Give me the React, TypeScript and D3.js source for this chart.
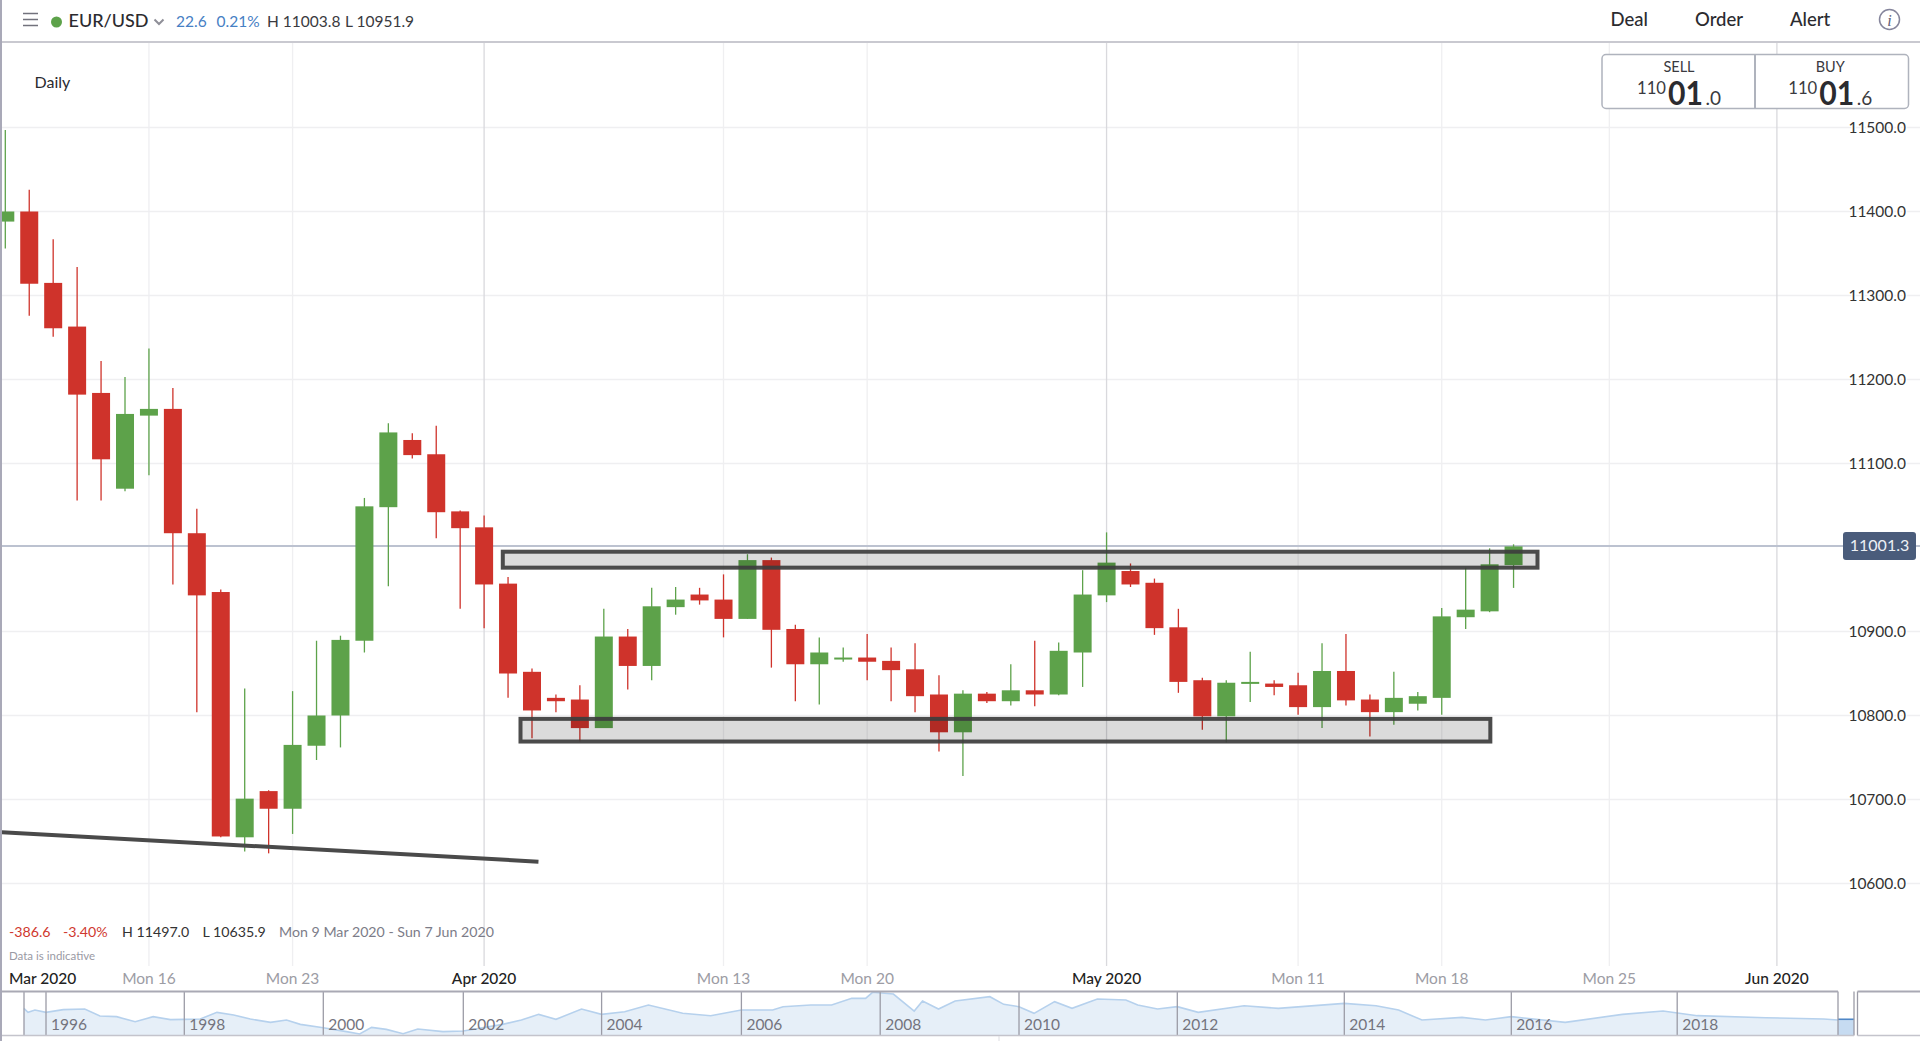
import { useEffect, useRef } from "react";
import * as d3 from "d3";

// Daily candles, Mon 9 Mar 2020 onwards
const opens = [11388, 11400, 11315, 11263, 11184, 11070, 11157, 11165, 11017, 10947, 10655, 10710, 10689, 10764, 10800, 10889, 11048, 11128, 11111, 11043, 11024, 10957, 10852, 10821, 10819, 10785, 10894, 10859, 10929, 10944, 10938, 10915, 10985, 10903, 10861, 10867, 10869, 10865, 10855, 10825, 10780, 10826, 10817, 10830, 10825, 10875, 10943, 10972, 10958, 10905, 10842, 10799, 10838, 10838, 10836, 10810, 10853, 10819, 10804, 10814, 10821, 10917, 10924, 10979];
const highs = [11497, 11426, 11367, 11334, 11222, 11203, 11237, 11190, 11046, 10950, 10832, 10711, 10829, 10889, 10895, 11059, 11148, 11136, 11145, 11044, 11038, 10965, 10856, 10825, 10836, 10927, 10903, 10952, 10953, 10952, 10968, 10992, 10988, 10908, 10893, 10881, 10897, 10881, 10886, 10848, 10830, 10828, 10861, 10889, 10887, 10973, 11018, 10981, 10963, 10927, 10845, 10842, 10876, 10842, 10851, 10886, 10897, 10825, 10852, 10828, 10928, 10976, 10999, 11003.8];
const lows = [11356, 11276, 11251, 11056, 11056, 11067, 11086, 10956, 10804, 10655, 10638, 10635.9, 10659, 10747, 10762, 10875, 10954, 11106, 11011, 10927, 10904, 10821, 10773, 10804, 10769, 10785, 10831, 10842, 10920, 10932, 10893, 10915, 10857, 10817, 10813, 10864, 10842, 10817, 10804, 10757, 10728, 10815, 10812, 10811, 10824, 10834, 10935, 10953, 10896, 10827, 10783, 10768, 10816, 10824, 10801, 10785, 10812, 10775, 10789, 10806, 10801, 10903, 10923, 10951.9];
const closes = [11400, 11314, 11261, 11182, 11105, 11159, 11165, 11017, 10943, 10656, 10701, 10689, 10765, 10800, 10890, 11049, 11137, 11110, 11042, 11023, 10956, 10850, 10806, 10817, 10785, 10894, 10859, 10930, 10938, 10937, 10915, 10985, 10902, 10861, 10875, 10869, 10864, 10854, 10823, 10780, 10826, 10817, 10830, 10825, 10877, 10944, 10982, 10956, 10904, 10840, 10799, 10839, 10840, 10834, 10810, 10853, 10818, 10804, 10821, 10823, 10918, 10926, 10980, 11001.3];

const priceTicks = [11500, 11400, 11300, 11200, 11100, 10900, 10800, 10700, 10600];
const lastPrice = 11001.3;

// x axis: candle index of each labelled day
const dayIndex = [6, 12, 20, 30, 36, 46, 54, 60, 67, 74];
const dayLabels = ["Mon 16", "Mon 23", "Apr 2020", "Mon 13", "Mon 20", "May 2020", "Mon 11", "Mon 18", "Mon 25", "Jun 2020"];
const monthLabels = ["Mar 2020", "Apr 2020", "May 2020", "Jun 2020"];

// drawn annotations, in candle index / price
const rangeBandX = [[20.78, 64.0], [21.52, 62.03]];
const rangeBandY = [[10995, 10976], [10796, 10769]];
const trendX = [-0.14, 22.27];
const trendY = [10661, 10626];

// navigator: long history of the pair
const navYears = [1995.68, 1995.74, 1995.84, 1996, 1996.25, 1996.56, 1996.78, 1997.02, 1997.29, 1997.55, 1997.8, 1998, 1998.23, 1998.47, 1998.71, 1998.95, 1999.24, 1999.47, 1999.67, 2000, 2000.33, 2000.52, 2000.69, 2000.9, 2001.14, 2001.35, 2001.71, 2002, 2002.57, 2002.84, 2003.09, 2003.34, 2003.71, 2004, 2004.33, 2004.67, 2005.16, 2005.56, 2006, 2006.45, 2006.6, 2007, 2007.3, 2007.59, 2007.79, 2007.89, 2008.19, 2008.49, 2008.61, 2008.84, 2009.08, 2009.58, 2009.78, 2010, 2010.19, 2010.45, 2010.67, 2010.99, 2011.35, 2011.5, 2011.75, 2012, 2012.25, 2012.8, 2013.21, 2014, 2014.38, 2014.65, 2014.93, 2015.41, 2015.69, 2016, 2016.65, 2017.34, 2017.83, 2018.25, 2019.1, 2019.82, 2020];
const navRates = [1.3, 1.227, 1.27, 1.227, 1.276, 1.288, 1.16, 1.148, 1.056, 1.148, 1.093, 1.099, 1.105, 1.227, 1.178, 1.105, 1.044, 1.086, 1.007, 0.946, 0.873, 0.83, 0.952, 0.915, 0.836, 0.921, 0.873, 0.885, 1.007, 1.086, 1.19, 1.099, 1.288, 1.19, 1.239, 1.361, 1.209, 1.166, 1.27, 1.27, 1.331, 1.361, 1.361, 1.484, 1.484, 1.594, 1.563, 1.251, 1.435, 1.288, 1.435, 1.514, 1.374, 1.331, 1.209, 1.423, 1.3, 1.471, 1.453, 1.361, 1.288, 1.331, 1.227, 1.349, 1.3, 1.392, 1.349, 1.27, 1.086, 1.135, 1.086, 1.148, 1.044, 1.19, 1.251, 1.166, 1.129, 1.105, 1.086];
const navTickYears = [1996, 1998, 2000, 2002, 2004, 2006, 2008, 2010, 2012, 2014, 2016, 2018, 2020];
const navSelYears = [2020, 2020.2];
const navSelRates = [1.1, 1.1];

const RED = "#cf332b";
const GREEN = "#5da24a";
const FONT = "Lato, 'Noto Sans', sans-serif";

export default function App() {
  const ref = useRef<SVGSVGElement | null>(null);

  useEffect(() => {
    if (!ref.current) return;
    const svg = d3.select(ref.current);
    svg.selectAll("*").remove();
    svg.attr("font-family", FONT);

    const width = 1920;
    const x = d3.scaleLinear().domain([0, 74]).range([5.3, 1776.9]);
    const y = d3.scaleLinear().domain([10600, 11500]).range([883.5, 127.5]);
    const bodyW = 18;

    const text = (s: string, px: number, py: number, size: number, fill: string, anchor = "start", weight = 400) =>
      svg.append("text").attr("x", px).attr("y", py).attr("font-size", size)
        .attr("fill", fill).attr("text-anchor", anchor).attr("font-weight", weight).text(s);

    // grid
    const grid = svg.append("g");
    grid.selectAll("line.h").data(priceTicks).join("line")
      .attr("x1", 2).attr("x2", width)
      .attr("y1", d => y(d)).attr("y2", d => y(d))
      .attr("stroke", "#efeff1").attr("stroke-width", 1.3);
    grid.selectAll("line.v").data(dayIndex).join("line")
      .attr("x1", d => x(d)).attr("x2", d => x(d))
      .attr("y1", 43).attr("y2", 966)
      .attr("stroke", (_, i) => monthLabels.includes(dayLabels[i]) ? "#d9d9dd" : "#efeff1")
      .attr("stroke-width", 1.3);

    // last price line
    svg.append("line").attr("x1", 2).attr("x2", width)
      .attr("y1", y(lastPrice) - 0.5).attr("y2", y(lastPrice) - 0.5)
      .attr("stroke", "#bcc2d0").attr("stroke-width", 2);

    // candles
    const idx = d3.range(closes.length);
    const up = (i: number) => closes[i] >= opens[i];
    const candles = svg.append("g");
    candles.selectAll("line").data(idx).join("line")
      .attr("x1", i => x(i)).attr("x2", i => x(i))
      .attr("y1", i => y(highs[i])).attr("y2", i => y(lows[i]))
      .attr("stroke", i => up(i) ? GREEN : RED)
      .attr("stroke-width", 1.3);
    candles.selectAll("rect").data(idx).join("rect")
      .attr("x", i => Math.max(2, x(i) - bodyW / 2))
      .attr("width", i => x(i) + bodyW / 2 - Math.max(2, x(i) - bodyW / 2))
      .attr("y", i => y(Math.max(opens[i], closes[i])))
      .attr("height", i => Math.max(2, Math.abs(y(opens[i]) - y(closes[i]))))
      .attr("fill", i => up(i) ? GREEN : RED);

    // range boxes
    rangeBandX.forEach((bx, k) => {
      const by = rangeBandY[k];
      svg.append("rect")
        .attr("x", x(bx[0])).attr("width", x(bx[1]) - x(bx[0]))
        .attr("y", y(by[0])).attr("height", y(by[1]) - y(by[0]))
        .attr("fill", "#000").attr("fill-opacity", 0.14)
        .attr("stroke", "#3d3d3d").attr("stroke-opacity", 0.92).attr("stroke-width", 4);
    });

    // trend line
    svg.append("path")
      .attr("d", d3.line<number>().x(d => x(d)).y((_, i) => y(trendY[i]))(trendX))
      .attr("fill", "none").attr("stroke", "#4a4a4a").attr("stroke-width", 4);

    // price axis labels
    svg.selectAll("text.price").data(priceTicks).join("text")
      .attr("class", "price")
      .attr("x", 1906).attr("y", d => y(d) + 5.5)
      .attr("text-anchor", "end").attr("font-size", 15.5).attr("fill", "#333")
      .attr("stroke", "#fff").attr("stroke-width", 3).attr("paint-order", "stroke")
      .text(d => d3.format(".1f")(d));

    // last price badge
    svg.append("rect").attr("x", 1843).attr("y", y(lastPrice) - 14.5).attr("width", 73).attr("height", 28)
      .attr("rx", 3).attr("fill", "#4a5c7b");
    text("11001.3", 1879.5, y(lastPrice) + 5, 16, "#eef1f5", "middle");

    // header
    svg.append("line").attr("x1", 0).attr("x2", width).attr("y1", 42).attr("y2", 42)
      .attr("stroke", "#c9c9d0").attr("stroke-width", 2);
    [13.5, 19.5, 25.5].forEach(v => {
      svg.append("line").attr("x1", 23).attr("x2", 38).attr("y1", v).attr("y2", v)
        .attr("stroke", "#72727c").attr("stroke-width", 1.5);
    });
    svg.append("circle").attr("cx", 56.5).attr("cy", 22).attr("r", 5.5).attr("fill", GREEN);
    text("EUR/USD", 68.5, 27, 18, "#2b2b2f", "start", 500);
    svg.append("path").attr("d", "M154.5,19.5L159,24L163.5,19.5").attr("fill", "none")
      .attr("stroke", "#8f8f98").attr("stroke-width", 2);
    text("22.6", 176, 26.5, 15.5, "#4680c4");
    text("0.21%", 216.5, 26.5, 15.5, "#4680c4");
    text("H 11003.8", 267, 26.5, 15.5, "#3a3a40");
    text("L 10951.9", 345, 26.5, 15.5, "#3a3a40");
    text("Deal", 1610.5, 26, 18.5, "#2b2b2f", "start", 500);
    text("Order", 1695, 26, 18.5, "#2b2b2f", "start", 500);
    text("Alert", 1790, 26, 18.5, "#2b2b2f", "start", 500);
    svg.append("circle").attr("cx", 1889.5).attr("cy", 19.5).attr("r", 10)
      .attr("fill", "none").attr("stroke", "#85859c").attr("stroke-width", 1.5);
    svg.append("text").attr("x", 1889.5).attr("y", 25.5).attr("text-anchor", "middle")
      .attr("font-size", 16).attr("font-family", "'Liberation Serif', serif").attr("font-style", "italic")
      .attr("fill", "#5f5f78").text("i");
    text("Daily", 34.5, 88, 16, "#2b2b2f");

    // sell / buy box
    svg.append("rect").attr("x", 1602).attr("y", 54.5).attr("width", 306.5).attr("height", 54).attr("rx", 4)
      .attr("fill", "#fff").attr("stroke", "#afb3bd").attr("stroke-width", 1.5);
    svg.append("line").attr("x1", 1755).attr("x2", 1755).attr("y1", 54.5).attr("y2", 108.5)
      .attr("stroke", "#afb3bd").attr("stroke-width", 2);
    [["SELL", ".0"], ["BUY", ".6"]].forEach(([lab, dec], k) => {
      const off = k * 151.3;
      text(lab, 1679 + off, 72, 14.5, "#3a3a40", "middle");
      text("110", 1637 + off, 94, 16.5, "#3a3a40").attr("textLength", 29).attr("lengthAdjust", "spacingAndGlyphs");
      text("01", 1668 + off, 105, 33, "#2b2b2f", "start", 700).attr("textLength", 35).attr("lengthAdjust", "spacingAndGlyphs");
      text(dec, 1705.5 + off, 105, 19, "#3a3a40");
    });

    // stats row
    text("-386.6", 9, 936.5, 14.2, "#d0392f");
    text("-3.40%", 63, 936.5, 14.2, "#d0392f");
    text("H 11497.0", 122, 936.5, 14.2, "#333");
    text("L 10635.9", 202.5, 936.5, 14.2, "#333");
    text("Mon 9 Mar 2020 - Sun 7 Jun 2020", 279, 936.5, 14.2, "#7c7c88");
    text("Data is indicative", 9, 960, 11.5, "#9a9aa4");

    // x axis labels
    text("Mar 2020", 9, 983.5, 15.5, "#222", "start", 500);
    svg.selectAll("text.day").data(dayIndex).join("text")
      .attr("class", "day")
      .attr("x", d => x(d)).attr("y", 983.5).attr("text-anchor", "middle").attr("font-size", 15.5)
      .attr("font-weight", (_, i) => monthLabels.includes(dayLabels[i]) ? 500 : 400)
      .attr("fill", (_, i) => monthLabels.includes(dayLabels[i]) ? "#222" : "#9c9ca4")
      .text((_, i) => dayLabels[i]);

    // navigator
    const navX = d3.scaleLinear().domain(navTickYears)
      .range([46, 184.3, 323.3, 463.3, 601.6, 741.4, 880.2, 1019, 1177.3, 1344.3, 1511.3, 1677.2, 1838]);
    const navY = d3.scaleLinear().domain([0.83, 1.6]).range([1034, 992]);
    const navBase = 1035;
    const nav = svg.append("g");
    nav.append("path")
      .attr("d", d3.area<number>().x(d => navX(d)).y0(navBase).y1((_, i) => navY(navRates[i]))(navYears))
      .attr("fill", "#e6eff8");
    nav.append("path")
      .attr("d", d3.line<number>().x(d => navX(d)).y((_, i) => navY(navRates[i]))(navYears))
      .attr("fill", "none").attr("stroke", "#b6d1ed").attr("stroke-width", 1.6);
    nav.append("path")
      .attr("d", d3.area<number>().x(d => navX(d)).y0(navBase).y1((_, i) => navY(navSelRates[i]))(navSelYears))
      .attr("fill", "#c6dbf1");
    nav.append("path")
      .attr("d", d3.line<number>().x(d => navX(d)).y((_, i) => navY(navSelRates[i]))(navSelYears))
      .attr("fill", "none").attr("stroke", "#4f87c7").attr("stroke-width", 1.6);
    nav.selectAll("line.tick").data(navTickYears).join("line")
      .attr("x1", d => navX(d)).attr("x2", d => navX(d)).attr("y1", 991.5).attr("y2", 1035.5)
      .attr("stroke", "#9b9ba6").attr("stroke-width", 1.3);
    nav.selectAll("text.year").data(navTickYears.slice(0, -1)).join("text")
      .attr("class", "year")
      .attr("x", d => navX(d) + 5).attr("y", 1029.5).attr("font-size", 15.5).attr("fill", "#74747e")
      .text(d => d);
    [24, 1854, 1857.5].forEach(v => {
      nav.append("line").attr("x1", v).attr("x2", v).attr("y1", 991.5).attr("y2", 1035.5)
        .attr("stroke", "#9b9ba6").attr("stroke-width", 1.3);
    });
    nav.append("line").attr("x1", 0).attr("x2", 1838).attr("y1", 991.5).attr("y2", 991.5)
      .attr("stroke", "#a9a9b4").attr("stroke-width", 2);
    nav.append("line").attr("x1", 1857.5).attr("x2", width).attr("y1", 991.5).attr("y2", 991.5)
      .attr("stroke", "#a9a9b4").attr("stroke-width", 2);
    nav.append("line").attr("x1", 0).attr("x2", 1854).attr("y1", 1035.5).attr("y2", 1035.5)
      .attr("stroke", "#c4c4cc").attr("stroke-width", 1.5);
    nav.append("line").attr("x1", 1857.5).attr("x2", width).attr("y1", 1035.5).attr("y2", 1035.5)
      .attr("stroke", "#c4c4cc").attr("stroke-width", 1.5);
    nav.append("line").attr("x1", 999).attr("x2", 999).attr("y1", 1036).attr("y2", 1041)
      .attr("stroke", "#dddde2").attr("stroke-width", 1);

    // left border of the chart
    svg.append("line").attr("x1", 1).attr("x2", 1).attr("y1", 0).attr("y2", 1041)
      .attr("stroke", "#a9a9b8").attr("stroke-width", 2);
  }, []);

  return <svg ref={ref} width={1920} height={1041} style={{ position: "absolute", left: 0, top: 0, display: "block", background: "#fff" }} />;
}
